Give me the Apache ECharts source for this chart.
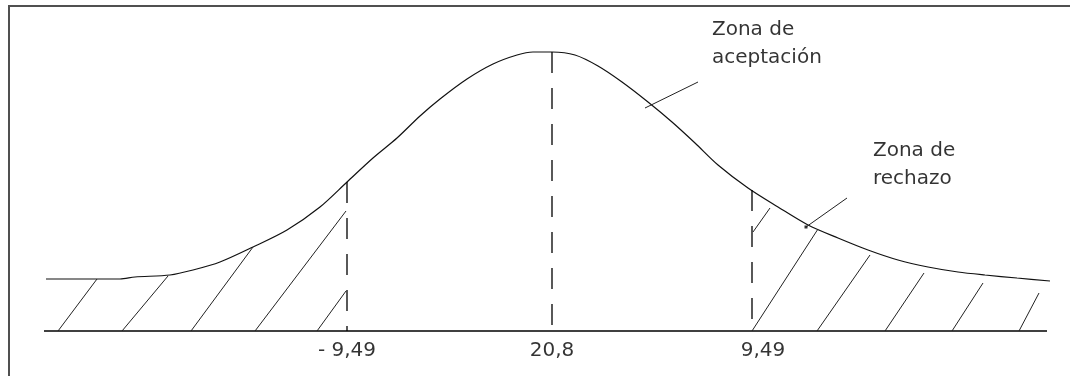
<!DOCTYPE html>
<html>
<head>
<meta charset="utf-8">
<script src="https://cdn.jsdelivr.net/npm/echarts@6/dist/echarts.min.js"></script>
<style>
  html, body { margin: 0; padding: 0; background: #fff; }
  #chart { width: 1070px; height: 376px; }
</style>
</head>
<body>
<div id="chart"></div>
<script>
// curva de densidad: posicion horizontal (u) y altura sobre la base (h)
var curveX = [-5.05, -4.31, -4.16, -3.81, -3.58, -3.31, -2.98, -2.64, -2.31, -2.04, -1.78, -1.54, -1.31, -1.11, -0.84, -0.58, -0.34, -0.18, 0.01,
  0.24, 0.47, 0.71, 0.97, 1.21, 1.44, 1.67, 1.97, 2.27, 2.57, 2.87, 3.17, 3.47, 3.77, 4.07, 4.34, 4.66, 4.99];
var curveY = [0.52, 0.52, 0.54, 0.56, 0.61, 0.69, 0.84, 1.01, 1.24, 1.49, 1.73, 1.93, 2.15, 2.32, 2.52, 2.67, 2.76, 2.79, 2.79,
  2.76, 2.65, 2.49, 2.29, 2.09, 1.88, 1.66, 1.43, 1.24, 1.06, 0.93, 0.81, 0.71, 0.64, 0.59, 0.56, 0.53, 0.50];

// lineas verticales discontinuas (x, altura)
var dashX = [-2.04, 0.01, 2.01];
var dashTop = [1.49, 2.79, 1.41];

// linea base
var baseX = [-5.07, 4.96];

// rayado de las zonas de rechazo: [x0, y0, x1, y1]
var hatchLeft = [
  [-4.93, 0, -4.54, 0.52],
  [-4.29, 0, -3.83, 0.55],
  [-3.60, 0, -2.98, 0.84],
  [-2.96, 0, -2.05, 1.20],
  [-2.34, 0, -2.05, 0.40]
];
var hatchRight = [
  [2.01, 0, 2.67, 1.02],
  [2.02, 0.99, 2.19, 1.23],
  [2.66, 0, 3.19, 0.76],
  [3.34, 0, 3.73, 0.58],
  [4.01, 0, 4.32, 0.48],
  [4.68, 0, 4.88, 0.38]
];

// etiquetas del eje
var tickLabels = ['- 9,49', '20,8', '9,49'];
var tickX = [-2.04, 0.01, 2.12];
var tickY = -0.20;

// anotaciones con su linea guia
var noteText = ['Zona de\naceptación', 'Zona de\nrechazo'];
var noteX = [1.61, 3.22];
var noteY = [2.87, 1.66];
var leaderLines = [
  [0.94, 2.23, 1.47, 2.49],
  [2.55, 1.04, 2.96, 1.33]
];

var chart = echarts.init(document.getElementById('chart'), null, { renderer: 'canvas' });

function segData(list) {
  var out = [];
  for (var i = 0; i < list.length; i++) {
    out.push([list[i][0], list[i][1]]);
    out.push([list[i][2], list[i][3]]);
    out.push('-');
  }
  return out;
}

var curveData = [];
for (var i = 0; i < curveX.length; i++) curveData.push([curveX[i], curveY[i]]);

var plainLine = { type: 'line', symbol: 'none', silent: true, clip: false, animation: false };

var series = [];

series.push(Object.assign({}, plainLine, {
  name: 'baseline',
  data: [[baseX[0], 0], [baseX[1], 0]],
  lineStyle: { color: '#000', width: 1.5 }
}));

series.push(Object.assign({}, plainLine, {
  name: 'curva',
  data: curveData,
  smooth: 0.3,
  lineStyle: { color: '#111', width: 1.2 }
}));

for (var d = 0; d < dashX.length; d++) {
  series.push(Object.assign({}, plainLine, {
    name: 'dash' + d,
    data: [[dashX[d], dashTop[d]], [dashX[d], 0]],
    lineStyle: { color: '#000', width: 1.3, type: [21, 15] }
  }));
}

series.push(Object.assign({}, plainLine, {
  name: 'rayado',
  data: segData(hatchLeft.concat(hatchRight)),
  lineStyle: { color: '#222', width: 1 }
}));

series.push(Object.assign({}, plainLine, {
  name: 'guias',
  data: segData(leaderLines),
  lineStyle: { color: '#222', width: 1 }
}));

// pequeño punto al final de la guia de rechazo
series.push({
  type: 'scatter', silent: true, animation: false,
  data: [[leaderLines[1][0], leaderLines[1][1]]],
  symbol: 'rect', symbolSize: 3,
  itemStyle: { color: '#000' }
});

var tickData = [];
for (var t = 0; t < tickLabels.length; t++) {
  tickData.push({ value: [tickX[t], tickY], name: tickLabels[t] });
}
series.push({
  type: 'scatter', silent: true, animation: false,
  data: tickData, symbolSize: 0,
  label: {
    show: true, position: 'inside', formatter: '{b}',
    fontFamily: 'DejaVu Sans', fontSize: 20, color: '#000'
  }
});

var noteData = [];
for (var n = 0; n < noteText.length; n++) {
  noteData.push({ value: [noteX[n], noteY[n]], name: noteText[n] });
}
series.push({
  type: 'scatter', silent: true, animation: false,
  data: noteData, symbolSize: 0,
  label: {
    show: true, position: 'right', distance: 0, formatter: '{b}',
    align: 'left', verticalAlign: 'middle',
    fontFamily: 'DejaVu Sans', fontSize: 20, lineHeight: 28, color: '#000'
  }
});

chart.setOption({
  backgroundColor: '#fff',
  animation: false,
  grid: { left: 0, right: 0, top: 0, bottom: 0 },
  xAxis: { type: 'value', min: -5.51, max: 5.19, show: false },
  yAxis: { type: 'value', min: -0.45, max: 3.31, show: false },
  // marco de la figura (solo borde superior e izquierdo visibles)
  graphic: [
    { type: 'line', shape: { x1: 8, y1: 6, x2: 1070, y2: 6 }, style: { stroke: '#505050', lineWidth: 2 } },
    { type: 'line', shape: { x1: 9, y1: 5, x2: 9, y2: 376 }, style: { stroke: '#505050', lineWidth: 2 } }
  ],
  series: series
});
</script>
</body>
</html>
